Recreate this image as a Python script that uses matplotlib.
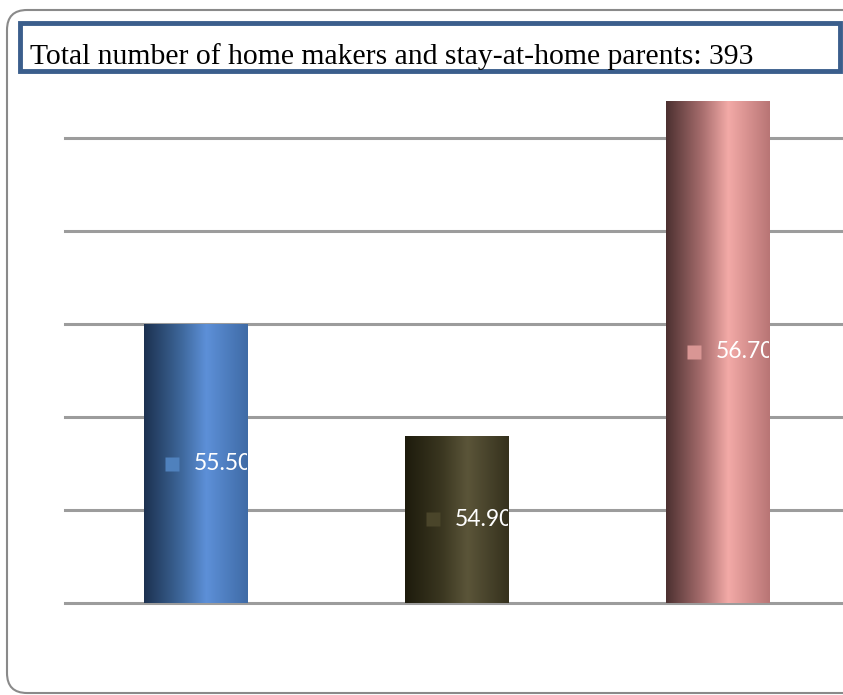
import numpy as np
import matplotlib.pyplot as plt
from matplotlib.colors import LinearSegmentedColormap
from matplotlib.patches import FancyBboxPatch, Rectangle
from matplotlib.transforms import IdentityTransform, offset_copy

# data
categories = ['Group 1', 'Group 2', 'Group 3']
values = [55.50, 54.90, 56.70]
labels = ['55.50%', '54.90%', '56.70%']
title = 'Total number of home makers and stay-at-home parents: 393'

# colour stops for each bar (left edge -> highlight -> right edge)
bar_stops = [
    ['#1c3150', '#3d6699', '#5d90d8', '#3f6ba6'],
    ['#1d1b0c', '#3a3620', '#5b5539', '#35311d'],
    ['#4c3030', '#a86e6e', '#f3aaa7', '#b87575'],
]
marker_colors = ['#4f81bd', '#4a452a', '#d99694']

W, H = 843, 695
fig = plt.figure(figsize=(W / 100, H / 100), dpi=100)

# outer rounded frame (pixel coordinates)
frame = FancyBboxPatch((7, 2), 880, 683, boxstyle='round,pad=0,rounding_size=20',
                       transform=IdentityTransform(), facecolor='white',
                       edgecolor='#8a8a8a', lw=1.5, zorder=-1)
fig.patches.append(frame)

ax = fig.add_axes([65 / W, 92 / H, 783 / W, 558 / H])
ax.patch.set_alpha(0)

base = 54.0
x = np.arange(len(values))
bars = ax.bar(x, np.array(values) - base, bottom=base, width=0.395,
              facecolor='none', edgecolor='none', zorder=3)

grad = np.linspace(0, 1, 256).reshape(1, -1)
for rect, stops in zip(bars, bar_stops):
    cmap = LinearSegmentedColormap.from_list('g', list(zip([0, 0.35, 0.6, 1.0], stops)))
    x0, y0, w, h = rect.get_x(), rect.get_y(), rect.get_width(), rect.get_height()
    im = ax.imshow(grad, cmap=cmap, extent=[x0, x0 + w, y0, y0 + h],
                   aspect='auto', zorder=3, interpolation='bilinear')
    im.set_clip_path(rect)

ax.set_xlim(-0.5, 2.5)
ax.set_ylim(54, 57)
ax.set_yticks(np.arange(54, 57, 0.5))
ax.set_xticks([])
ax.tick_params(left=False, labelleft=False)
ax.grid(axis='y', color='#9c9c9c', lw=2.2, zorder=1)
ax.set_axisbelow(True)
for gl in ax.get_ygridlines():
    gl.set_clip_on(False)
for s in ax.spines.values():
    s.set_visible(False)

# data labels: coloured square + white value text, cut at the bar edge
for xi, v, lab, mc, rect in zip(x, values, labels, marker_colors, bars):
    ymid = base + (v - base) / 2
    tr = offset_copy(ax.transData, fig=fig, x=-17, y=0, units='points')
    ax.plot([xi], [ymid], marker='s', ms=10, color=mc, mec='none',
            transform=tr, zorder=5)
    t = ax.annotate(lab, (xi, ymid), xytext=(-1.5, 0), textcoords='offset points',
                    ha='left', va='center', color='white', fontsize=16.5,
                    family='Lato', zorder=5)
    t.set_clip_path(rect)

# title box
tbox = Rectangle((20 / W, 1 - 71 / H), 820 / W, 48 / H, transform=fig.transFigure,
                 facecolor='white', edgecolor='#3b5e8c', lw=3.5, zorder=10)
fig.patches.append(tbox)
fig.text(30 / W, 1 - 57 / H, title, family='Liberation Serif', fontsize=21.3,
         va='center', ha='left', color='black', zorder=11)

fig.savefig('out.png', dpi=100)
